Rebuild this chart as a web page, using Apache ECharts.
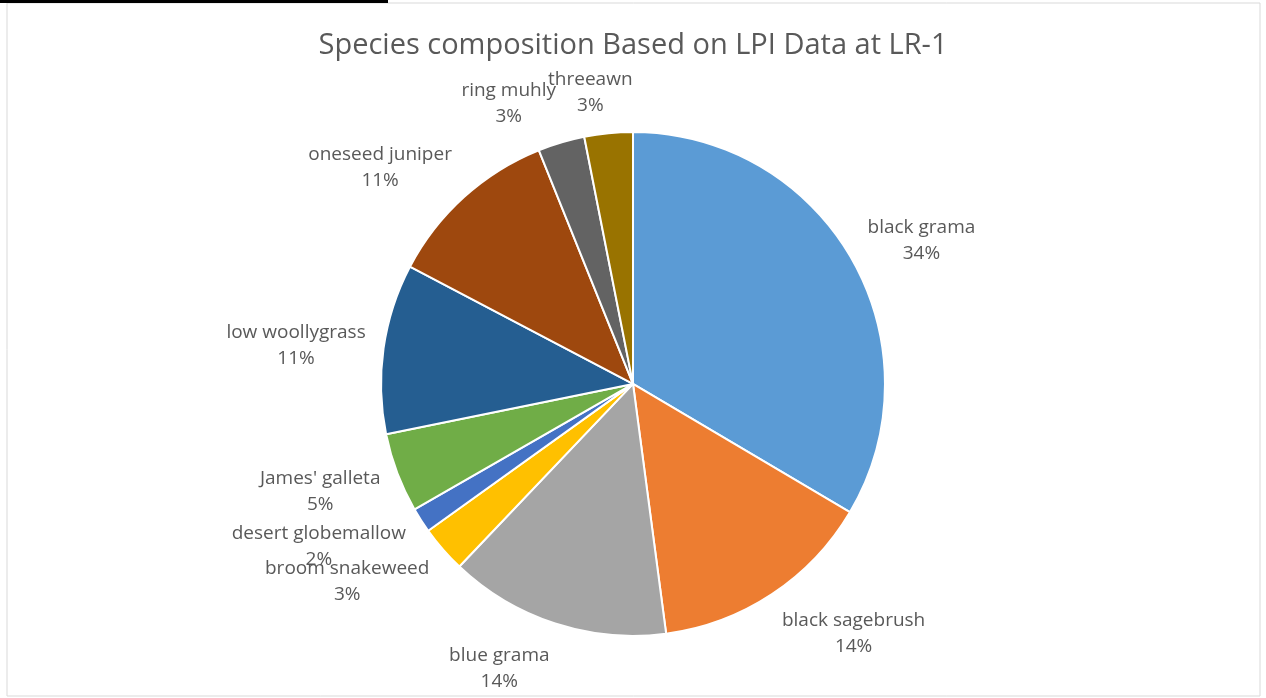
<!DOCTYPE html>
<html>
<head>
<meta charset="utf-8">
<title>Species composition</title>
<script src="https://cdn.jsdelivr.net/npm/echarts@6/dist/echarts.min.js"></script>
<style>
    html, body { margin: 0; padding: 0; background: #fff; }
    #chart { width: 1266px; height: 698px; }
</style>
</head>
<body>
<div id="chart"></div>
<script>
'use strict';

// 物种名称 (clockwise from 12 o'clock)
var species = ['black grama', 'black sagebrush', 'blue grama', 'broom snakeweed', 'desert globemallow',
    "James' galleta", 'low woollygrass', 'oneseed juniper', 'ring muhly', 'threeawn'];
// 百分比
var shares = [33.5, 14.4, 14.2, 3.0, 1.6, 5.1, 10.9, 11.2, 3.0, 3.1];
var colors = ['#5B9BD5', '#ED7D31', '#A5A5A5', '#FFC000', '#4472C4',
    '#70AD47', '#255E91', '#9E480E', '#636363', '#997300'];

var ech = document.getElementById('chart');
var pieChart = echarts.init(ech);

var total = shares.reduce(function (a, b) { return a + b; }, 0);
var radiusPct = 0.722;

function clamp(v) { return Math.max(-1, Math.min(1, v)); }

// Excel "best fit" style: the label's inner corner sits just outside the slice middle
function bestFit(params) {
    var i = params.dataIndex;
    var before = 0;
    for (var k = 0; k < i; k++) before += shares[k];
    var mid = (before + shares[i] / 2) / total * Math.PI * 2;
    var w = pieChart.getWidth(), h = pieChart.getHeight();
    var cx = w * 0.5, cy = h * 0.55;
    var r = radiusPct * Math.min(w, h) / 2;
    var ux = Math.sin(mid), uy = -Math.cos(mid);
    var hw = params.labelRect.width / 2, hh = params.labelRect.height / 2;
    var d = r + 18;
    return {
        x: cx + d * ux + hw * clamp(ux * 4),
        y: cy + d * uy + hh * uy + 3,
        align: 'center',
        verticalAlign: 'middle'
    };
}

var option = {
    color: colors,
    title: {
        text: 'Species composition Based on LPI Data at LR-1',
        left: 'center',
        top: 26,
        textStyle: {
            fontFamily: 'Open Sans',
            fontSize: 29,
            fontWeight: 'normal',
            color: '#595959'
        }
    },
    graphic: [
        { type: 'rect', shape: { x: 7, y: 3, width: 1253, height: 693 },
          style: { fill: 'none', stroke: '#d9d9d9', lineWidth: 1 } },
        { type: 'rect', shape: { x: 0, y: 0, width: 388, height: 3 },
          style: { fill: '#000' } }
    ],
    series: [{
        name: 'species',
        type: 'pie',
        radius: (radiusPct * 100) + '%',
        center: ['50%', '55%'],
        startAngle: 90,
        clockwise: true,
        avoidLabelOverlap: false,
        animation: false,
        data: species.map(function (n, i) { return { name: n, value: shares[i] }; }),
        itemStyle: {
            borderColor: '#fff',
            borderWidth: 2
        },
        label: {
            show: true,
            position: 'outside',
            formatter: function (p) { return p.name + '\n' + Math.round(p.value) + '%'; },
            fontFamily: 'Open Sans',
            fontSize: 19,
            lineHeight: 26,
            color: '#595959',
            align: 'center'
        },
        labelLine: { show: false },
        labelLayout: bestFit
    }]
};

pieChart.setOption(option);
</script>
</body>
</html>
